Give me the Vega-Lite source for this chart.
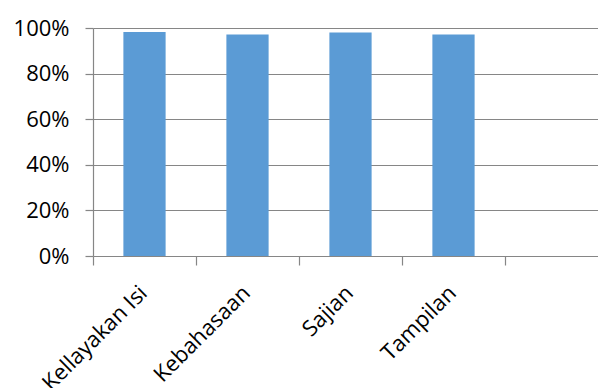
{
  "$schema": "https://vega.github.io/schema/vega-lite/v6.json",
  "width": 505,
  "height": 228,
  "autosize": {"type": "none"},
  "padding": {"left": 93, "top": 28, "right": 0, "bottom": 132},
  "background": "white",
  "config": {
    "view": {"stroke": null},
    "font": "Open Sans"
  },
  "data": {
    "values": [
      {"aspek": "Kellayakan Isi", "nilai": 0.982},
      {"aspek": "Kebahasaan", "nilai": 0.972},
      {"aspek": "Sajian", "nilai": 0.98},
      {"aspek": "Tampilan", "nilai": 0.972}
    ]
  },
  "mark": {"type": "bar", "color": "#5B9BD5", "width": {"band": 0.41}},
  "encoding": {
    "x": {
      "field": "aspek",
      "type": "nominal",
      "sort": null,
      "scale": {
        "domain": ["Kellayakan Isi", "Kebahasaan", "Sajian", "Tampilan", " "],
        "range": [0, 515],
        "paddingInner": 0,
        "paddingOuter": 0
      },
      "axis": {
        "title": null,
        "bandPosition": 0,
        "labelOffset": -8,
        "labelAngle": -45,
        "labelFontSize": 22,
        "labelColor": "#000000",
        "labelPadding": 17,
        "tickSize": 9,
        "tickColor": "#868686",
        "tickWidth": 1.2,
        "domain": false,
        "grid": false,
        "labelOverlap": false,
        "labelBound": false
      }
    },
    "y": {
      "field": "nilai",
      "type": "quantitative",
      "scale": {"domain": [0, 1], "nice": false},
      "axis": {
        "title": null,
        "values": [0, 0.2, 0.4, 0.6, 0.8, 1],
        "format": ".0%",
        "labelFontSize": 22,
        "labelColor": "#000000",
        "labelPadding": 16,
        "tickSize": 8,
        "tickColor": "#868686",
        "tickWidth": 1.2,
        "domainColor": "#868686",
        "domainWidth": 1.2,
        "gridColor": "#868686",
        "gridWidth": 1.2,
        "gridOpacity": 1,
        "grid": true
      }
    }
  }
}
